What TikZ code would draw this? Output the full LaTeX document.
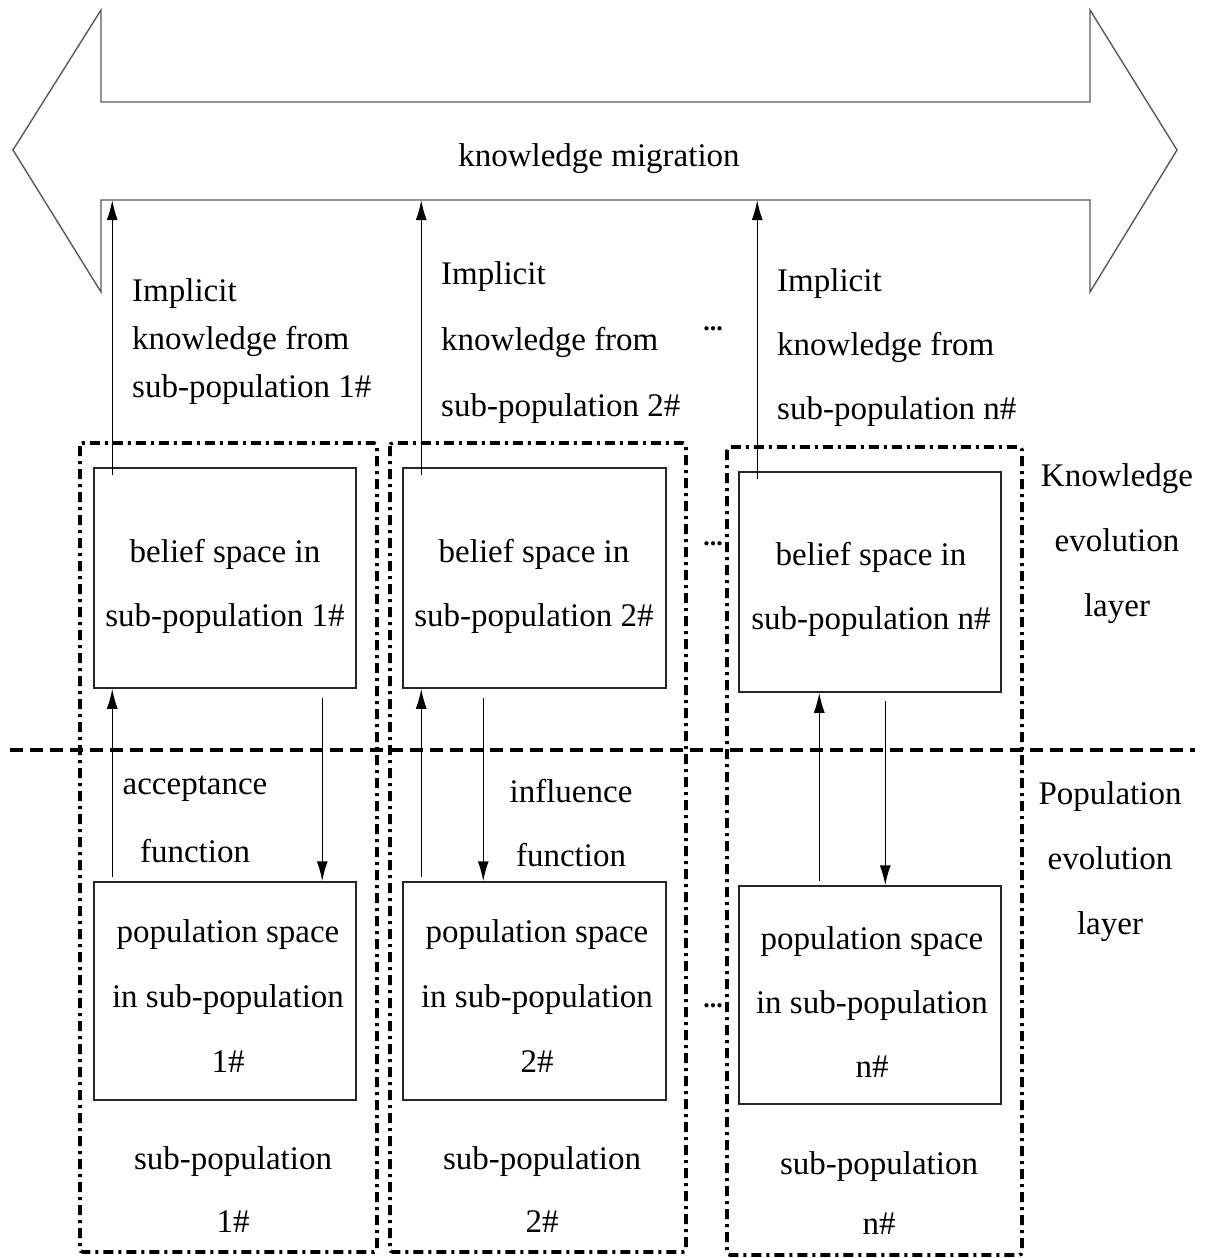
\documentclass[tikz,border=0pt]{standalone}
\usepackage{fontspec}
\setmainfont{Liberation Serif}
\usetikzlibrary{arrows.meta}
\begin{document}
\begin{tikzpicture}[x=1pt,y=-1pt,
  txt/.style={font=\fontsize{33}{#1}\selectfont, inner sep=0pt, align=center, text=black},
  txt/.default=64,
  box/.style={draw=black!85, line width=1.5pt, minimum width=262pt, minimum height=220pt, inner sep=0pt},
  group/.style={draw=black, line width=3.6pt, rounded corners=3pt,
    dash pattern=on 10pt off 5pt on 3pt off 5pt},
  layer/.style={draw=black, line width=3.4pt, dash pattern=on 13pt off 7pt},
  flow/.style={draw=black, line width=1.5pt, -{Latex[length=20pt,width=11pt]}},
  dots/.style={font=\fontsize{26}{26}\selectfont\bfseries, inner sep=0pt, anchor=base},
]
\useasboundingbox (0,0) rectangle (1216,1258);

% knowledge migration: double-headed block arrow
\draw[draw=black!65, line width=1.4pt, line join=miter]
  (13,150) -- (101,10) -- (101,102) -- (1090,102) -- (1090,10) -- (1177,150)
  -- (1090,292) -- (1090,200) -- (101,200) -- (101,292) -- cycle;
\node[txt] (km) at (599,159) {knowledge migration};
\coordinate (migB) at (0,200);

% sub-population groups
\draw[group] (80,443) rectangle (377,1252);
\draw[group] (390,443) rectangle (686,1252);
\draw[group] (727,447) rectangle (1022,1255);

% layer separator
\draw[layer] (10,750) -- (1195,750);

% belief spaces
\node[box] (b1) at (225,578) {};
\node[box, minimum width=263pt] (b2) at (534.5,578) {};
\node[box] (bn) at (870,582) {};
\node[txt=64] (tb1) at (225,586) {belief space in\\sub-population 1\#};
\node[txt=64] (tb2) at (534,586) {belief space in\\sub-population 2\#};
\node[txt=64] (tbn) at (871,589) {belief space in\\sub-population n\#};

% population spaces
\node[box, minimum height=218pt] (p1) at (225,991) {};
\node[box, minimum height=218pt, minimum width=263pt] (p2) at (534.5,991) {};
\node[box, minimum height=218pt] (pn) at (870,995) {};
\node[txt=65] (tp1) at (228,996) {population space\\in sub-population\\1\#};
\node[txt=65] (tp2) at (537,996) {population space\\in sub-population\\2\#};
\node[txt=64] (tpn) at (872,1002) {population space\\in sub-population\\n\#};

% implicit knowledge flows up to migration
\draw[flow] ([shift={(19,8)}]b1.north west) -- ([xshift=19pt]b1.north west |- migB);
\draw[flow] ([shift={(19,8)}]b2.north west) -- ([xshift=19pt]b2.north west |- migB);
\draw[flow] ([shift={(19,8)}]bn.north west) -- ([xshift=19pt]bn.north west |- migB);

% acceptance (up) and influence (down) between layers
\draw[flow] ([shift={(19,-4)}]p1.north west) -- ([xshift=19pt]b1.south west);
\draw[flow] ([shift={(229,9)}]b1.south west) -- ([xshift=229pt]p1.north west);
\draw[flow] ([shift={(19,-4)}]p2.north west) -- ([xshift=19pt]b2.south west);
\draw[flow] ([shift={(81,9)}]b2.south west) -- ([xshift=81pt]p2.north west);
\draw[flow] ([shift={(81,-4)}]pn.north west) -- ([xshift=81pt]bn.south west);
\draw[flow] ([shift={(147,8)}]bn.south west) -- ([xshift=147pt]pn.north west);

% implicit knowledge labels
\node[txt=48, align=left, anchor=west] (ik1) at (132,342) {Implicit\\knowledge from\\sub-population 1\#};
\node[txt=66, align=left, anchor=west] (ik2) at (441,343) {Implicit\\knowledge from\\sub-population 2\#};
\node[txt=64, align=left, anchor=west] (ikn) at (777,348) {Implicit\\knowledge from\\sub-population n\#};

% function labels
\node[txt=68] (acc) at (195,819) {acceptance\\function};
\node[txt=64] (inf) at (571,823) {influence\\function};

% sub-population captions
\node[txt=63] (sp1) at (233,1190) {sub-population\\1\#};
\node[txt=63] (sp2) at (542,1190) {sub-population\\2\#};
\node[txt=60] (spn) at (879,1193) {sub-population\\n\#};

% layer names
\node[txt=65] (kel) at (1117,544) {Knowledge\\evolution\\layer};
\node[txt=65] (pel) at (1110,862) {Population\\evolution\\layer};

% ellipses between columns
\node[dots] (d1) at (713,330) {...};
\node[dots] (d2) at (713,545) {...};
\node[dots] (d3) at (713,1007) {...};
\end{tikzpicture}
\end{document}
